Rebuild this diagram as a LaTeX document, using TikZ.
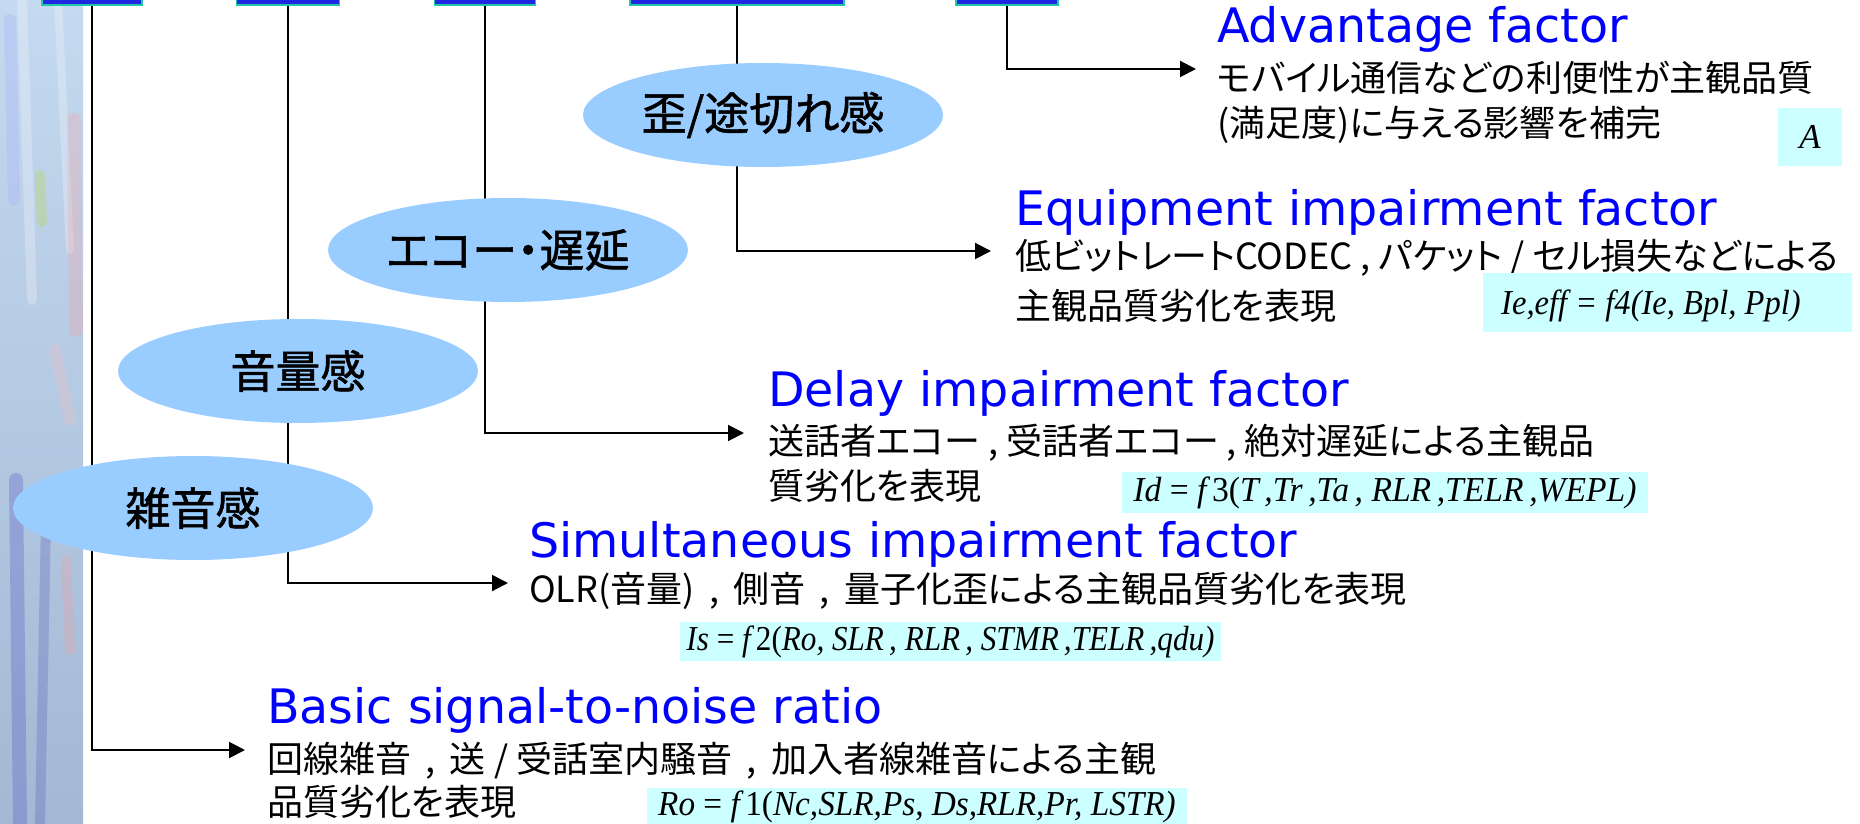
\documentclass[tikz,border=0pt]{standalone}
\usepackage{fontspec}
\setmainfont{DejaVu Sans}
\newfontfamily\jp[RawFeature=+palt]{Noto Sans CJK JP}
\newfontfamily\jpb[RawFeature=+palt,FakeBold=1.2]{Noto Sans CJK JP}
\newfontfamily\hd{DejaVu Sans}
\newfontfamily\fm{Liberation Serif}
\usetikzlibrary{shapes.geometric,arrows.meta}
\definecolor{ellblue}{HTML}{99CCFF}
\definecolor{boxcyan}{HTML}{CCFFFF}
\definecolor{headblue}{HTML}{0000FF}
\definecolor{topfill}{HTML}{1E28E0}
\definecolor{topedge}{HTML}{20C8A8}
\definecolor{stripA}{HTML}{C4DAF0}
\definecolor{stripB}{HTML}{F2EEF0}
\definecolor{stripC}{HTML}{A4B8D4}
\newcommand{\cm}{\hspace{0.4em},\hspace{0.4em}}
\begin{document}
\begin{tikzpicture}[x=1pt,y=-1pt,
  conn/.style={line width=2pt, -{Triangle[length=16pt,width=16pt]}},
  ell/.style={ellipse, fill=ellblue, minimum width=360pt, minimum height=104pt, inner sep=0pt, font=\jpb\fontsize{45}{54}\selectfont},
  head/.style={anchor=base west, inner sep=0pt, text=headblue, font=\hd\fontsize{47.5}{56}\selectfont},
  desc/.style={anchor=base west, inner sep=0pt, font=\jp\fontsize{36}{42}\selectfont},
  fbox/.style={fill=boxcyan, inner sep=0pt},
  ftext/.style={inner sep=0pt, font=\fm\fontsize{35}{40}\selectfont},
  topbox/.style={fill=topfill, draw=topedge, line width=1.5pt, inner sep=0pt, minimum height=17pt},
  streak/.style={line cap=round, opacity=0.25}]
\useasboundingbox (0,0) rectangle (1860,824);
\fill[white] (0,0) rectangle (1860,824);
% decorative left strip
\shade[top color=stripA, middle color=stripB, bottom color=stripC] (0,0) rectangle (83,824);
\draw[streak, white, line width=10pt] (22,0) -- (32,300);
\draw[streak, white, line width=8pt] (58,0) -- (70,250);
\draw[streak, blue!35, line width=12pt] (10,20) -- (14,200);
\draw[streak, yellow!70!green, line width=10pt] (40,175) -- (42,222);
\draw[streak, red!40, line width=14pt] (74,120) -- (76,330);
\draw[streak, red!25, line width=12pt] (55,350) -- (70,420);
\draw[streak, blue!50!gray, line width=14pt] (16,480) -- (20,824);
\draw[streak, blue!40!gray, line width=10pt] (46,520) -- (40,824);
\draw[streak, red!40, line width=10pt] (66,560) -- (70,650);
% top boxes
\node[topbox, minimum width=100pt] (b1) at (92,-3.5) {};
\node[topbox, minimum width=103pt] (b2) at (288,-3.5) {};
\node[topbox, minimum width=101pt] (b3) at (485,-3.5) {};
\node[topbox, minimum width=214pt] (b4) at (737,-3.5) {};
\node[topbox, minimum width=102pt] (b5) at (1007,-3.5) {};
% arrow tips
\coordinate (t1) at (245,750);
\coordinate (t2) at (508,583);
\coordinate (t3) at (744,433);
\coordinate (t4) at (991,251);
\coordinate (t5) at (1196,69);
\draw[conn] (b1.south) |- (t1);
\draw[conn] (b2.south) |- (t2);
\draw[conn] (b3.south) |- (t3);
\draw[conn] (b4.south) |- (t4);
\draw[conn] (b5.south) |- (t5);
% ellipses
\node[ell] (e4) at (763,115) {歪/途切れ感};
\node[ell] (e3) at (508,250) {エコー・遅延};
\node[ell] (e2) at (298,371) {音量感};
\node[ell] (e1) at (193,508) {雑音感};
% headings
\node[head] (h5) at (1217,43) {Advantage factor};
\node[head] (h4) at (1015,225) {Equipment impairment factor};
\node[head] (h3) at (768,406) {Delay impairment factor};
\node[head] (h2) at (529,557) {Simultaneous impairment factor};
\node[head] (h1) at (267,723) {Basic signal-to-noise ratio};
% descriptions
\node[desc] (d5a) at (1217,92) {モバイル通信などの利便性が主観品質};
\node[desc] (d5b) at (1217,136) {(満足度)に与える影響を補完};
\node[desc] (d4a) at (1015,269) {低ビットレートCODEC , パケット / セル損失などによる};
\node[desc] (d4b) at (1015,319) {主観品質劣化を表現};
\node[desc] (d3a) at (768,454) {送話者エコー , 受話者エコー , 絶対遅延による主観品};
\node[desc] (d3b) at (768,499) {質劣化を表現};
\node[desc] (d2) at (529,602) {OLR(音量)\cm 側音\cm 量子化歪による主観品質劣化を表現};
\node[desc] (d1a) at (267,772) {回線雑音\cm 送 / 受話室内騒音\cm 加入者線雑音による主観};
\node[desc] (d1b) at (267,815) {品質劣化を表現};
% formula boxes
\node[fbox, minimum width=64pt, minimum height=58pt] (fA) at (1810,137) {};
\node[ftext] (fAt) at (fA.center) {\itshape A};
\node[fbox, minimum width=369pt, minimum height=59pt] (fIe) at (1667.5,302.5) {};
\node[ftext, anchor=west] (fIet) at (1501,306) {\scalebox{0.93}[1]{\itshape Ie,eff = f4(Ie, Bpl, Ppl)}};
\node[fbox, minimum width=526pt, minimum height=41pt] (fId) at (1385,492.5) {};
\node[ftext] (fIdt) at (fId.center) {\scalebox{0.96}[1]{\textit{Id} = \textit{f\,}3(\textit{T\,,Tr\,,Ta\,, RLR\,,TELR\,,WEPL)}}};
\node[fbox, minimum width=541pt, minimum height=39pt] (fIs) at (950.5,641.5) {};
\node[ftext] (fIst) at (fIs.center) {\scalebox{0.89}[1]{\textit{Is} = \textit{f\,}2(\textit{Ro, SLR\,, RLR\,, STMR\,,TELR\,,qdu)}}};
\node[fbox, minimum width=540pt, minimum height=38pt] (fRo) at (917,807) {};
\node[ftext] (fRot) at (fRo.center) {\scalebox{0.95}[1]{\textit{Ro} = \textit{f\,}1(\textit{Nc,SLR,Ps, Ds,RLR,Pr, LSTR)}}};
\end{tikzpicture}
\end{document}
